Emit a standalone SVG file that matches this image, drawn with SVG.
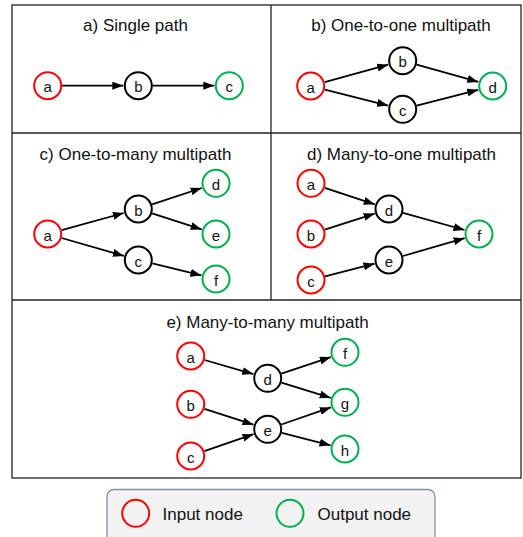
<svg xmlns="http://www.w3.org/2000/svg" width="523" height="537" viewBox="0 0 523 537">
  <style>
    .frame { fill: none; stroke: #222; stroke-width: 1.3; }
    .title { font-family: "Liberation Sans", Arial, sans-serif; font-size: 17px; fill: #111; text-anchor: middle; }
    .node circle { fill: #fff; stroke-width: 2; }
    .node text { font-family: "Liberation Sans", Arial, sans-serif; font-size: 15px; fill: #111; text-anchor: middle; dominant-baseline: central; }
    .in circle { stroke: #ff0000; }
    .out circle { stroke: #00b050; }
    .mid circle { stroke: #000; }
    .edges line { stroke: #000; stroke-width: 1.8; marker-end: url(#arrow); }
    .legend-text { font-family: "Liberation Sans", Arial, sans-serif; font-size: 17px; fill: #111; }
  </style>
  <defs>
    <marker id="arrow" markerUnits="userSpaceOnUse" markerWidth="11" markerHeight="8" refX="11" refY="4" orient="auto">
      <path d="M0,0 L11,4 L0,8 z" fill="#000"/>
    </marker>
  </defs>

  <rect width="523" height="537" fill="#fff"/>

  <!-- panel grid -->
  <g id="frame">
    <rect class="frame" x="12" y="5" width="509" height="473"/>
    <line class="frame" x1="12" y1="133" x2="521" y2="133"/>
    <line class="frame" x1="12" y1="300" x2="521" y2="300"/>
    <line class="frame" x1="271" y1="5" x2="271" y2="300"/>
  </g>

  <!-- panel titles -->
  <g id="titles">
    <text class="title" x="135.5" y="31">a) Single path</text>
    <text class="title" x="401" y="31">b) One-to-one multipath</text>
    <text class="title" x="135.5" y="160">c) One-to-many multipath</text>
    <text class="title" x="401.5" y="160">d) Many-to-one multipath</text>
    <text class="title" x="267.5" y="328">e) Many-to-many multipath</text>
  </g>

  <!-- connectors -->
  <g id="connectors" class="edges">
    <!-- a) -->
    <line x1="62.2" y1="85.7" x2="123.3" y2="85.7"/>
    <line x1="152.8" y1="85.7" x2="214.3" y2="85.7"/>
    <!-- b) -->
    <line x1="324.7" y1="82.2" x2="388.2" y2="64.7"/>
    <line x1="324.8" y1="89.6" x2="388.2" y2="105.6"/>
    <line x1="416.7" y1="64.6" x2="478.3" y2="81.9"/>
    <line x1="416.7" y1="105.7" x2="478.2" y2="89.8"/>
    <!-- c) -->
    <line x1="61.7" y1="230.1" x2="123.8" y2="213.0"/>
    <line x1="61.6" y1="238.0" x2="123.9" y2="255.9"/>
    <line x1="152.1" y1="204.4" x2="201.7" y2="188.0"/>
    <line x1="152.1" y1="213.4" x2="201.7" y2="229.4"/>
    <line x1="152.4" y1="263.4" x2="201.4" y2="275.4"/>
    <!-- d) -->
    <line x1="324.8" y1="187.8" x2="374.7" y2="204.3"/>
    <line x1="324.8" y1="229.6" x2="374.7" y2="213.6"/>
    <line x1="325.0" y1="276.4" x2="374.5" y2="263.7"/>
    <line x1="403.0" y1="212.9" x2="464.5" y2="230.0"/>
    <line x1="402.9" y1="256.0" x2="464.6" y2="238.2"/>
    <!-- e) -->
    <line x1="204.6" y1="360.0" x2="253.3" y2="374.1"/>
    <line x1="204.5" y1="408.8" x2="253.4" y2="424.7"/>
    <line x1="204.4" y1="451.2" x2="253.5" y2="434.2"/>
    <line x1="281.4" y1="373.7" x2="330.8" y2="357.1"/>
    <line x1="281.5" y1="382.6" x2="330.7" y2="397.8"/>
    <line x1="281.4" y1="424.5" x2="330.8" y2="407.4"/>
    <line x1="281.8" y1="432.9" x2="330.5" y2="445.3"/>
  </g>

  <!-- a) single path -->
  <g id="a-a" class="node in"><circle cx="47.7" cy="85.7" r="13.5"/><text x="47.7" y="86.7">a</text></g>
  <g id="a-b" class="node mid"><circle cx="138.3" cy="85.7" r="13.5"/><text x="138.3" y="86.7">b</text></g>
  <g id="a-c" class="node out"><circle cx="229.3" cy="85.7" r="13.5"/><text x="229.3" y="86.7">c</text></g>

  <!-- b) one-to-one -->
  <g id="b-a" class="node in"><circle cx="310.7" cy="86" r="13.5"/><text x="310.7" y="87">a</text></g>
  <g id="b-b" class="node mid"><circle cx="402.7" cy="60.7" r="13.5"/><text x="402.7" y="61.7">b</text></g>
  <g id="b-c" class="node mid"><circle cx="402.7" cy="109.3" r="13.5"/><text x="402.7" y="110.3">c</text></g>
  <g id="b-d" class="node out"><circle cx="492.7" cy="86" r="13.5"/><text x="492.7" y="87">d</text></g>

  <!-- c) one-to-many -->
  <g id="c-a" class="node in"><circle cx="47.7" cy="234" r="13.5"/><text x="47.7" y="235">a</text></g>
  <g id="c-b" class="node mid"><circle cx="138.3" cy="209" r="13.5"/><text x="138.3" y="210">b</text></g>
  <g id="c-c" class="node mid"><circle cx="138.3" cy="260" r="13.5"/><text x="138.3" y="261">c</text></g>
  <g id="c-d" class="node out"><circle cx="216" cy="183.3" r="13.5"/><text x="216" y="184.3">d</text></g>
  <g id="c-e" class="node out"><circle cx="216" cy="234" r="13.5"/><text x="216" y="235">e</text></g>
  <g id="c-f" class="node out"><circle cx="216" cy="279" r="13.5"/><text x="216" y="280">f</text></g>

  <!-- d) many-to-one -->
  <g id="d-a" class="node in"><circle cx="311" cy="183.3" r="13.5"/><text x="311" y="184.3">a</text></g>
  <g id="d-b" class="node in"><circle cx="311" cy="234" r="13.5"/><text x="311" y="235">b</text></g>
  <g id="d-c" class="node in"><circle cx="311" cy="280" r="13.5"/><text x="311" y="281">c</text></g>
  <g id="d-d" class="node mid"><circle cx="389" cy="209" r="13.5"/><text x="389" y="210">d</text></g>
  <g id="d-e" class="node mid"><circle cx="389" cy="260" r="13.5"/><text x="389" y="261">e</text></g>
  <g id="d-f" class="node out"><circle cx="479" cy="234" r="13.5"/><text x="479" y="235">f</text></g>

  <!-- e) many-to-many -->
  <g id="e-a" class="node in"><circle cx="190.7" cy="356" r="13.5"/><text x="190.7" y="357">a</text></g>
  <g id="e-b" class="node in"><circle cx="190.7" cy="404.3" r="13.5"/><text x="190.7" y="405.3">b</text></g>
  <g id="e-c" class="node in"><circle cx="190.7" cy="456" r="13.5"/><text x="190.7" y="457">c</text></g>
  <g id="e-d" class="node mid"><circle cx="267.7" cy="378.3" r="13.5"/><text x="267.7" y="379.3">d</text></g>
  <g id="e-e" class="node mid"><circle cx="267.7" cy="429.3" r="13.5"/><text x="267.7" y="430.3">e</text></g>
  <g id="e-f" class="node out"><circle cx="345" cy="352.3" r="13.5"/><text x="345" y="353.3">f</text></g>
  <g id="e-g" class="node out"><circle cx="345" cy="402.3" r="13.5"/><text x="345" y="403.3">g</text></g>
  <g id="e-h" class="node out"><circle cx="345" cy="449" r="13.5"/><text x="345" y="450">h</text></g>

  <!-- legend -->
  <g id="legend">
    <rect x="107" y="489.5" width="328" height="60" rx="7" fill="#f2f2f2" stroke="#7a93ad" stroke-width="1.3"/>
    <circle cx="135.7" cy="513.3" r="13.5" fill="none" stroke="#ff0000" stroke-width="2"/>
    <text class="legend-text" x="162.5" y="519.5">Input node</text>
    <circle cx="290" cy="513.3" r="13.5" fill="none" stroke="#00b050" stroke-width="2"/>
    <text class="legend-text" x="317.5" y="519.5">Output node</text>
  </g>
</svg>
